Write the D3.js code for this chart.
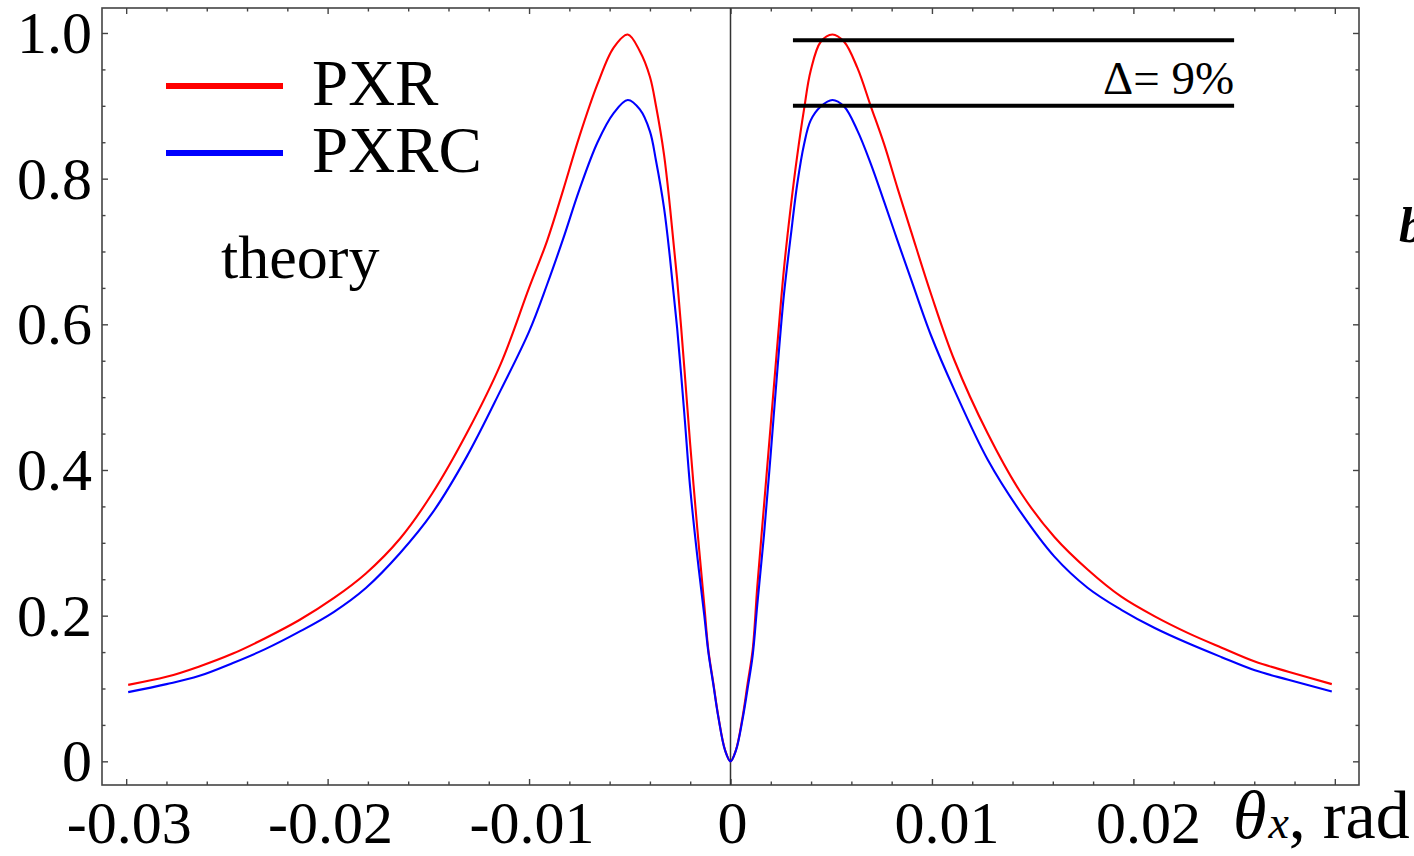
<!DOCTYPE html>
<html>
<head>
<meta charset="utf-8">
<script src="https://cdn.jsdelivr.net/npm/d3@7"></script>
<style>
  html, body { margin: 0; padding: 0; background: #fff; }
  svg { display: block; }
  text { font-family: "Liberation Serif", "Times New Roman", serif; fill: #000; }
</style>
</head>
<body>
<svg id="chart" width="1414" height="856"></svg>
<script>
// ---- data ----
const theta = [
  -0.0299, -0.0280, -0.0264, -0.0247, -0.0231, -0.0214, -0.0197, -0.0181, -0.0164, -0.0148,
  -0.0131, -0.0114, -0.0100, -0.0091, -0.0083, -0.0075, -0.0066, -0.0058, -0.0051, -0.0045,
  -0.0040, -0.0037, -0.0033, -0.0030, -0.00265, -0.0023, -0.0020, -0.00165, -0.0013, -0.0011,
  -0.00085, -0.0006, -0.00027, 0,
  0.00027, 0.0006, 0.00085, 0.0011, 0.00133, 0.00166, 0.00199, 0.00232, 0.00265, 0.00299,
  0.00332, 0.00365, 0.00398, 0.00448, 0.00506, 0.00564, 0.0063, 0.00697, 0.00763, 0.00829,
  0.00896, 0.00995, 0.01111, 0.01277, 0.01443, 0.01608, 0.01774, 0.0194, 0.02106, 0.02272,
  0.02438, 0.02603, 0.02769, 0.02985
];
const pxr = [
  0.105, 0.116, 0.130, 0.148, 0.169, 0.194, 0.224, 0.258, 0.306, 0.368,
  0.450, 0.546, 0.650, 0.715, 0.785, 0.858, 0.930, 0.980, 0.998, 0.975,
  0.940, 0.900, 0.833, 0.760, 0.662, 0.543, 0.435, 0.320, 0.214, 0.153,
  0.107, 0.061, 0.0155, 0,
  0.0155, 0.061, 0.107, 0.153, 0.240, 0.350, 0.460, 0.570, 0.675, 0.761,
  0.833, 0.895, 0.948, 0.988, 0.998, 0.988, 0.952, 0.899, 0.847, 0.787,
  0.728, 0.642, 0.551, 0.450, 0.368, 0.308, 0.263, 0.226, 0.199, 0.176,
  0.156, 0.137, 0.123, 0.106
];
const pxrc = [
  0.095, 0.106, 0.117, 0.135, 0.154, 0.178, 0.205, 0.238, 0.286, 0.341,
  0.418, 0.510, 0.590, 0.655, 0.718, 0.785, 0.850, 0.890, 0.908, 0.895,
  0.865, 0.825, 0.760, 0.690, 0.595, 0.480, 0.375, 0.282, 0.200, 0.150,
  0.105, 0.060, 0.015, 0,
  0.015, 0.058, 0.100, 0.145, 0.215, 0.310, 0.420, 0.535, 0.640, 0.721,
  0.794, 0.847, 0.880, 0.899, 0.908, 0.899, 0.866, 0.820, 0.768, 0.715,
  0.662, 0.585, 0.510, 0.414, 0.341, 0.281, 0.238, 0.208, 0.183, 0.162,
  0.143, 0.125, 0.112, 0.096
];
const seriesNames = ["PXR", "PXRC"];
const seriesColors = ["#ff0000", "#0000ff"];
const xMajorTicks = [-0.03, -0.02, -0.01, 0, 0.01, 0.02, 0.03];
const xTickLabels = ["-0.03", "-0.02", "-0.01", "0", "0.01", "0.02", ""];
const yMajorTicks = [0, 0.2, 0.4, 0.6, 0.8, 1.0];
const yTickLabels = ["0", "0.2", "0.4", "0.6", "0.8", "1.0"];
const deltaLevels = [0.99, 0.90];
const deltaRange = [0.0031, 0.025];
const deltaLabel = "Δ= 9%";
const noteLabel = "theory";

// ---- layout ----
const svg = d3.select("#chart");
const L = 102, R = 1359, T = 8, B = 785;
const x = d3.scaleLinear().domain([-0.0312, 0.0312]).range([L, R]);
const y = d3.scaleLinear().domain([-0.0325, 1.0343]).range([B, T]);

const xMinor = d3.range(-30, 31, 2).map(d => d / 1000).filter(d => !xMajorTicks.some(m => Math.abs(m - d) < 1e-9));
const yMinor = d3.range(0, 21, 1).map(d => d * 0.05).filter(d => !yMajorTicks.some(m => Math.abs(m - d) < 1e-9));

const frameColor = "#444";
function styleAxis(g) {
  g.select(".domain").remove();
  g.selectAll(".tick line").attr("stroke", frameColor).attr("stroke-width", 1.4);
  g.selectAll(".tick text").remove();
}
svg.append("g").attr("transform", `translate(0,${B})`).call(d3.axisBottom(x).tickValues(xMajorTicks).tickSize(-6)).call(styleAxis);
svg.append("g").attr("transform", `translate(0,${B})`).call(d3.axisBottom(x).tickValues(xMinor).tickSize(-3.5)).call(styleAxis);
svg.append("g").attr("transform", `translate(0,${T})`).call(d3.axisTop(x).tickValues(xMajorTicks).tickSize(-6)).call(styleAxis);
svg.append("g").attr("transform", `translate(0,${T})`).call(d3.axisTop(x).tickValues(xMinor).tickSize(-3.5)).call(styleAxis);
svg.append("g").attr("transform", `translate(${L},0)`).call(d3.axisLeft(y).tickValues(yMajorTicks).tickSize(-6)).call(styleAxis);
svg.append("g").attr("transform", `translate(${L},0)`).call(d3.axisLeft(y).tickValues(yMinor).tickSize(-3.5)).call(styleAxis);
svg.append("g").attr("transform", `translate(${R},0)`).call(d3.axisRight(y).tickValues(yMajorTicks).tickSize(-6)).call(styleAxis);
svg.append("g").attr("transform", `translate(${R},0)`).call(d3.axisRight(y).tickValues(yMinor).tickSize(-3.5)).call(styleAxis);

svg.append("rect").attr("x", L).attr("y", T).attr("width", R - L).attr("height", B - T)
  .attr("fill", "none").attr("stroke", frameColor).attr("stroke-width", 1.6);

svg.append("line").attr("x1", x(0)).attr("x2", x(0)).attr("y1", T).attr("y2", B)
  .attr("stroke", "#333").attr("stroke-width", 1.5);

// tick labels
svg.append("g").selectAll("text").data(xMajorTicks).join("text")
  .attr("x", d => x(d) + (d > 0 ? 15 : (d < 0 ? 3 : 2)))
  .attr("y", 843)
  .attr("text-anchor", "middle")
  .attr("font-size", 60)
  .text((d, i) => xTickLabels[i]);
svg.append("g").selectAll("text").data(yMajorTicks).join("text")
  .attr("x", 92)
  .attr("y", d => y(d) + 20)
  .attr("text-anchor", "end")
  .attr("font-size", 60)
  .text((d, i) => yTickLabels[i]);

// axis title θx, rad
const xt = svg.append("text").attr("x", 1233).attr("y", 838).attr("font-size", 68);
xt.append("tspan").attr("font-style", "italic").text("θ");
xt.append("tspan").attr("font-style", "italic").attr("font-size", 46).attr("dx", 2).text("x");
xt.append("tspan").text(", rad");

// curves
const series = [pxr, pxrc];
const line = d3.line().x(d => x(d[0])).y(d => y(d[1])).curve(d3.curveCatmullRom.alpha(0.5));
series.forEach((vals, si) => {
  svg.append("path")
    .datum(theta.map((t, i) => [t, vals[i]]))
    .attr("fill", "none")
    .attr("stroke", seriesColors[si])
    .attr("stroke-width", 2.1)
    .attr("stroke-linejoin", "round")
    .attr("d", line);
});

// delta lines
deltaLevels.forEach(v => {
  svg.append("line")
    .attr("x1", x(deltaRange[0])).attr("x2", x(deltaRange[1]))
    .attr("y1", y(v)).attr("y2", y(v))
    .attr("stroke", "#000").attr("stroke-width", 4);
});
svg.append("text").attr("x", x(deltaRange[1])).attr("y", 94)
  .attr("text-anchor", "end").attr("font-size", 47).text(deltaLabel);

// legend
const legendY = [86, 153];
seriesNames.forEach((name, i) => {
  svg.append("line").attr("x1", 166).attr("x2", 283).attr("y1", legendY[i]).attr("y2", legendY[i])
    .attr("stroke", seriesColors[i]).attr("stroke-width", 6);
  svg.append("text").attr("x", 312).attr("y", legendY[i] + 19).attr("font-size", 65).text(name);
});
svg.append("text").attr("x", 221).attr("y", 278).attr("font-size", 62).text(noteLabel);

// cut-off glyph at right edge
svg.append("text").attr("x", 1399).attr("y", 242).attr("font-size", 50)
  .attr("font-weight", "bold").attr("font-style", "italic").text("b");
</script>
</body>
</html>
